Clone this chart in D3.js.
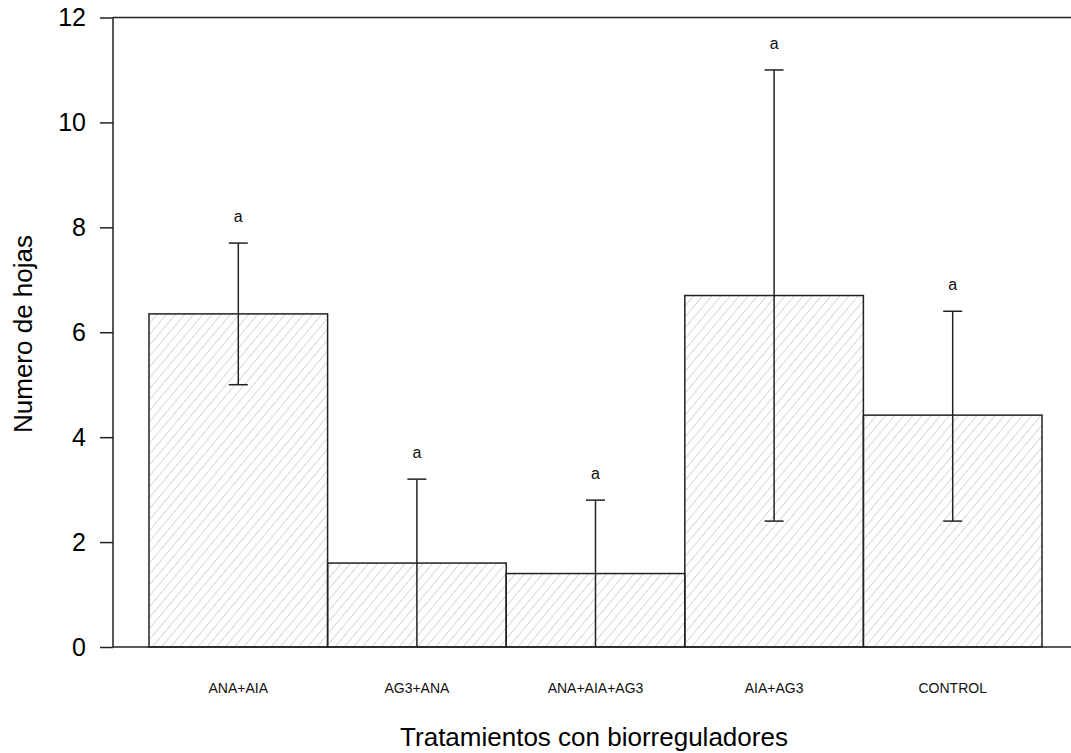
<!DOCTYPE html>
<html>
<head>
<meta charset="utf-8">
<script src="https://cdn.jsdelivr.net/npm/d3@7/dist/d3.min.js"></script>
<style>
  html, body { margin: 0; padding: 0; background: #fff; }
  svg { display: block; font-family: "Liberation Sans", Arial, sans-serif; }
</style>
</head>
<body>
<svg id="chart" width="1071" height="753"></svg>
<script>
// Treatments and mean leaf count with error limits
const categories = ["ANA+AIA", "AG3+ANA", "ANA+AIA+AG3", "AIA+AG3", "CONTROL"];
const means = [6.35, 1.6, 1.4, 6.7, 4.42];
const upper = [7.7, 3.2, 2.8, 11.0, 6.4];
const lower = [5.0, 0.0, 0.0, 2.4, 2.4];
const groups = ["a", "a", "a", "a", "a"];
const yTicks = [0, 2, 4, 6, 8, 10, 12];

const svg = d3.select("#chart");

const axisX0 = 113, plotRight = 1071;
const x = d3.scaleBand().domain(categories).range([149, 1042]).padding(0);
const y = d3.scaleLinear().domain([0, 12]).range([647, 17.5]);

// diagonal hatch fill
const defs = svg.append("defs");
const pat = defs.append("pattern")
  .attr("id", "hatch")
  .attr("patternUnits", "userSpaceOnUse")
  .attr("width", 7)
  .attr("height", 7)
  .attr("patternTransform", "rotate(40)");
pat.append("line")
  .attr("x1", 0).attr("y1", 0).attr("x2", 0).attr("y2", 7)
  .attr("stroke", "#b8b8b8").attr("stroke-width", 1.1);

// bars
svg.append("g").selectAll("rect")
  .data(categories)
  .join("rect")
  .attr("x", d => x(d))
  .attr("y", (d, i) => y(means[i]))
  .attr("width", x.bandwidth())
  .attr("height", (d, i) => y(0) - y(means[i]))
  .attr("fill", "url(#hatch)")
  .attr("stroke", "#222")
  .attr("stroke-width", 1.5);

// error bars
const eb = svg.append("g").attr("stroke", "#222").attr("stroke-width", 1.5);
categories.forEach((c, i) => {
  const cx = x(c) + x.bandwidth() / 2;
  eb.append("line").attr("x1", cx).attr("x2", cx).attr("y1", y(lower[i])).attr("y2", y(upper[i]));
  eb.append("line").attr("x1", cx - 9.5).attr("x2", cx + 9.5).attr("y1", y(upper[i])).attr("y2", y(upper[i]));
  if (lower[i] > 0) {
    eb.append("line").attr("x1", cx - 9.5).attr("x2", cx + 9.5).attr("y1", y(lower[i])).attr("y2", y(lower[i]));
  }
});

// significance letters
svg.append("g").selectAll("text")
  .data(categories)
  .join("text")
  .attr("x", d => x(d) + x.bandwidth() / 2)
  .attr("y", (d, i) => y(upper[i]) - 21)
  .attr("text-anchor", "middle")
  .attr("font-size", 16)
  .attr("fill", "#111")
  .text((d, i) => groups[i]);

// y axis
const yAxis = d3.axisLeft(y).tickValues(yTicks).tickSize(13).tickPadding(14).tickFormat(d3.format("d"));
const gy = svg.append("g").attr("transform", `translate(${axisX0},0)`).call(yAxis);
gy.select(".domain").remove();
gy.append("line").attr("x1", 0).attr("x2", 0).attr("y1", y(0)).attr("y2", y(12))
  .attr("stroke", "#222").attr("stroke-width", 1.5);
gy.selectAll(".tick line").attr("stroke", "#222").attr("stroke-width", 1.5);
gy.selectAll(".tick text").attr("font-size", 25).attr("fill", "#000")
  .attr("font-family", "'Liberation Sans', Arial, sans-serif");

// top and bottom frame lines
svg.append("line").attr("x1", axisX0).attr("x2", plotRight).attr("y1", y(12)).attr("y2", y(12))
  .attr("stroke", "#222").attr("stroke-width", 1.5);
svg.append("line").attr("x1", axisX0).attr("x2", plotRight).attr("y1", y(0)).attr("y2", y(0))
  .attr("stroke", "#222").attr("stroke-width", 1.5);

// x category labels
const xAxis = d3.axisBottom(x).tickSize(0).tickPadding(36);
const gx = svg.append("g").attr("transform", `translate(0,${y(0)})`).call(xAxis);
gx.select(".domain").remove();
gx.selectAll(".tick text").attr("font-size", 14).attr("fill", "#111")
  .attr("font-family", "'Liberation Sans', Arial, sans-serif");

// axis titles
svg.append("text")
  .attr("x", 594).attr("y", 746)
  .attr("text-anchor", "middle")
  .attr("font-size", 26)
  .attr("fill", "#000")
  .text("Tratamientos con biorreguladores");

svg.append("text")
  .attr("transform", "translate(32,334) rotate(-90)")
  .attr("text-anchor", "middle")
  .attr("font-size", 26)
  .attr("fill", "#000")
  .text("Numero de hojas");
</script>
</body>
</html>
